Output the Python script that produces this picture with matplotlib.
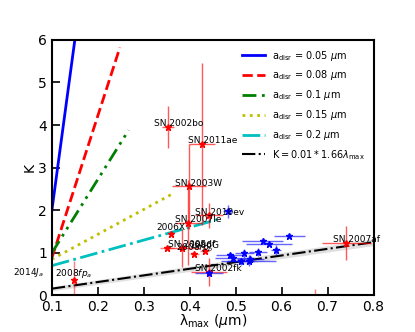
import numpy as np
import matplotlib
matplotlib.use("Agg")
import matplotlib.pyplot as plt

# dust model lines (lambda_max, K) end points
lam_005 = [0.1, 0.16]
K_005 = [2.0, 6.8]
lam_008 = [0.1, 0.248]
K_008 = [0.88, 5.82]
lam_010 = [0.1, 0.267]
K_010 = [1.0, 3.88]
lam_015 = [0.1, 0.365]
K_015 = [0.85, 2.40]
lam_020 = [0.1, 0.46]
K_020 = [0.70, 1.78]

# empirical relation
lam_fit = [0.1, 0.8]
K_fit = [0.16, 1.25]
K_fit_err = [0.05, 0.08]

# labelled SNe (label left of point)
sn_names = ['SN 2002bo', 'SN 2011ae', 'SN 2003W', 'SN 2010ev', 'SN 2007le',
            'SN 2005df', 'SN 2002fk', 'SN 2007af']
sn_lam = [0.352, 0.426, 0.399, 0.442, 0.397, 0.383, 0.442, 0.741]
sn_K = [3.95, 3.55, 2.56, 1.88, 1.71, 1.12, 0.55, 1.24]
sn_lam_err = [0.013, 0.028, 0.037, 0.03, 0.03, 0.04, 0.04, 0.053]
sn_K_err = [0.49, 1.9, 1.0, 0.3, 1.0, 0.45, 0.33, 0.4]

# Patat et al. sample (label centred above)
pt_names = ['2006X', '1986G', '2008$fp_a$', '2008$fp_b$', '2014$J_a$', '', '']
pt_lam = [0.359, 0.433, 0.148, 0.41, 0.05, 0.673, 0.35]
pt_K = [1.45, 1.04, 0.37, 0.98, 0.40, -0.3, 1.12]
pt_lam_err = [0.005, 0.01, 0.005, 0.01, 0.005, 0.005, 0.015]
pt_K_err = [0.04, 0.05, 0.45, 0.05, 0.05, 0.45, 0.03]

# Galactic stars
star_lam = [0.483, 0.617, 0.559, 0.573, 0.588, 0.548, 0.519, 0.487, 0.495,
            0.511, 0.532, 0.528, 0.442]
star_K = [1.98, 1.39, 1.28, 1.21, 1.06, 1.02, 0.99, 0.94, 0.88, 0.80, 0.86,
          0.82, 0.53]
star_lam_err = [0.01, 0.034, 0.045, 0.05, 0.01, 0.02, 0.02, 0.03, 0.04, 0.03,
                0.03, 0.06, 0.03]
star_K_err = [0.15, 0.05, 0.06, 0.05, 0.12, 0.1, 0.1, 0.06, 0.06, 0.08, 0.1,
              0.12, 0.06]

fig, ax = plt.subplots(figsize=(4.15, 3.32), dpi=100)

ax.plot(lam_005, K_005, 'b-', lw=2, label=r'$\mathrm{a_{disr}}$ = 0.05 $\mu$m')
ax.plot(lam_008, K_008, 'r--', lw=2, label=r'$\mathrm{a_{disr}}$ = 0.08 $\mu$m')
ax.plot(lam_010, K_010, color='g', ls=(0, (5, 2, 1, 2, 1, 2)), lw=2,
        label=r'$\mathrm{a_{disr}}$ = 0.1 $\mu$m')
ax.plot(lam_015, K_015, 'y:', lw=2, label=r'$\mathrm{a_{disr}}$ = 0.15 $\mu$m')
ax.plot(lam_020, K_020, 'c-.', lw=2, label=r'$\mathrm{a_{disr}}$ = 0.2 $\mu$m')

lf = np.array(lam_fit)
kf = np.array(K_fit)
ef = np.array(K_fit_err)
ax.fill_between(lf, kf - ef, kf + ef, color='0.8', alpha=0.6, lw=0)
ax.plot(lf, kf, 'k-.', lw=1.5, label=r'K$=0.01*1.66\lambda_{\mathrm{max}}$')

red_bar = (1, 0, 0, 0.65)
ax.errorbar(sn_lam, sn_K, xerr=sn_lam_err, yerr=sn_K_err, fmt='*', color='r',
            ms=5, ecolor=red_bar, elinewidth=1)
for n, x, y in zip(sn_names, sn_lam, sn_K):
    ax.text(x - 0.03, y + 0.02, n, fontsize=6.5)

ax.errorbar(pt_lam, pt_K, xerr=pt_lam_err, yerr=pt_K_err, fmt='*', color='r',
            ms=5, ecolor=(1, 0, 0, 0.5), elinewidth=1)
for n, x, y in zip(pt_names, pt_lam, pt_K):
    ax.text(x, y + 0.08, n, fontsize=6.5, ha='center')

ax.errorbar(star_lam, star_K, xerr=star_lam_err, yerr=star_K_err, fmt='*',
            color='b', ms=5, ecolor=(0, 0, 1, 0.6), elinewidth=1)

ax.set_xlim(0.1, 0.8)
ax.set_ylim(0, 6)
ax.set_xlabel(r'$\mathrm{\lambda_{max}}$ ($\mu$m)', labelpad=-2)
ax.set_ylabel('K', labelpad=1)
ax.tick_params(direction='in', length=6, width=1.2, top=False, right=False)
for s in ax.spines.values():
    s.set_linewidth(1.5)
ax.legend(loc='upper right', fontsize=7, frameon=False, handlelength=2.4,
          handletextpad=0.7, labelspacing=0.6)

fig.savefig('out.png', dpi=100)
